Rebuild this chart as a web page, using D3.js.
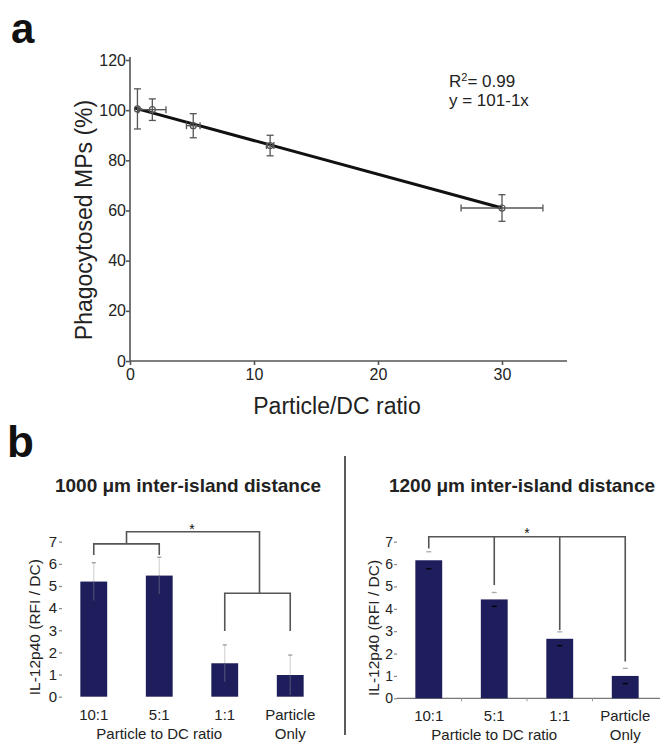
<!DOCTYPE html>
<html><head><meta charset="utf-8">
<script src="https://cdn.jsdelivr.net/npm/d3@7"></script>
<style>
body{margin:0;background:#fff;}
svg{display:block;font-family:"Liberation Sans",Arial,sans-serif;}
</style></head>
<body><svg id="c" width="669" height="750"></svg>
<script>
// ---- Panel a data ----
const aX = [0.6, 1.8, 5.1, 11.3, 30.0];
const aY = [100.5, 100.2, 93.8, 85.9, 61.0];
const aXerr = [0, 1.1, 0.55, 0.3, 3.3];
const aYerr = [8.0, 4.3, 4.8, 4.1, 5.3];
const fitX = [0.4, 30];
const fitY = [100.8, 61.0];
const aXTicks = [0, 10, 20, 30];
const aYTicks = [0, 20, 40, 60, 80, 100, 120];
// ---- Panel b data ----
const categories = ["10:1", "5:1", "1:1", "Particle Only"];
const leftVals = [5.2, 5.47, 1.51, 0.98];
const leftErr = [0.85, 0.83, 0.83, 0.9];
const rightVals = [6.17, 4.42, 2.66, 1.0];
const rightErr = [0.38, 0.31, 0.31, 0.34];
const bYTicks = [0, 1, 2, 3, 4, 5, 6, 7];

const svg = d3.select("#c");
const axisCol = "#555", textCol = "#222", barCol = "#1f1e5c";

// ===== Panel a =====
svg.append("text").attr("x", 11).attr("y", 43).attr("font-size", 42).attr("font-weight", "bold").attr("fill", "#111").text("a");
const ax = d3.scaleLinear().domain([0, 35]).range([130, 564]);
const ay = d3.scaleLinear().domain([0, 120]).range([361, 60]);
const gA = svg.append("g");
const xAx = gA.append("g").attr("transform", "translate(0,361)")
  .call(d3.axisBottom(ax).tickValues(aXTicks).tickSize(4).tickPadding(4).tickSizeOuter(0));
const yAx = gA.append("g").attr("transform", "translate(130,0)")
  .call(d3.axisLeft(ay).tickValues(aYTicks).tickSize(4).tickPadding(0).tickSizeOuter(0));
[xAx, yAx].forEach(g => {
  g.selectAll("path,line").attr("stroke", axisCol).attr("stroke-width", 1.6);
  g.selectAll("text").attr("font-size", 16).attr("fill", textCol).attr("font-family", "'Liberation Sans Narrow','Liberation Sans',Arial,sans-serif");
});
xAx.selectAll("path").attr("d", `M130,0H567`);
yAx.selectAll("path").attr("d", `M0,361V57`);
gA.append("text").attr("transform", "translate(92,220) rotate(-90)").attr("text-anchor", "middle")
  .attr("font-size", 23).attr("fill", textCol).text("Phagocytosed MPs (%)");
gA.append("text").attr("x", 337).attr("y", 414).attr("text-anchor", "middle")
  .attr("font-size", 23).attr("fill", textCol).text("Particle/DC ratio");
gA.append("path").attr("d", d3.line().x((d, i) => ax(fitX[i])).y(d => ay(d))(fitY))
  .attr("stroke", "#111").attr("stroke-width", 3).attr("fill", "none");
const pts = gA.selectAll("g.pt").data(aX.map((x, i) => ({x, y: aY[i], ex: aXerr[i], ey: aYerr[i]}))).enter().append("g");
pts.each(function(d) {
  const g = d3.select(this);
  const cx = ax(d.x), cy = ay(d.y);
  const cap = 3.5;
  const line = (x1, y1, x2, y2) => g.append("line").attr("x1", x1).attr("y1", y1).attr("x2", x2).attr("y2", y2).attr("stroke", "#555").attr("stroke-width", 1.3);
  line(cx, ay(d.y + d.ey), cx, ay(d.y - d.ey));
  line(cx - cap, ay(d.y + d.ey), cx + cap, ay(d.y + d.ey));
  line(cx - cap, ay(d.y - d.ey), cx + cap, ay(d.y - d.ey));
  if (d.ex > 0) {
    line(ax(d.x - d.ex), cy, ax(d.x + d.ex), cy);
    line(ax(d.x - d.ex), cy - cap, ax(d.x - d.ex), cy + cap);
    line(ax(d.x + d.ex), cy - cap, ax(d.x + d.ex), cy + cap);
  }
  g.append("circle").attr("cx", cx).attr("cy", cy).attr("r", 3).attr("fill", "none").attr("stroke", "#555").attr("stroke-width", 1.2);
});
const rt = gA.append("text").attr("x", 449).attr("y", 87).attr("font-size", 17).attr("fill", textCol);
rt.append("tspan").text("R");
rt.append("tspan").attr("font-size", 11).attr("dy", -6).text("2");
rt.append("tspan").attr("dy", 6).text("= 0.99");
gA.append("text").attr("x", 449).attr("y", 106).attr("font-size", 17).attr("fill", textCol).text("y = 101-1x");

// ===== Panel b =====
svg.append("text").attr("x", 7).attr("y", 457).attr("font-size", 44).attr("font-weight", "bold").attr("fill", "#111").text("b");
svg.append("line").attr("x1", 345).attr("x2", 345).attr("y1", 456).attr("y2", 735).attr("stroke", "#333").attr("stroke-width", 1.6);

function barPanel(cfg) {
  const g = svg.append("g");
  const x = d3.scaleBand().domain(categories).range([cfg.x0, cfg.x0 + 260]).paddingInner(0.59).paddingOuter(0.28);
  const y = d3.scaleLinear().domain([0, 7]).range([cfg.base, cfg.top]);
  g.append("text").attr("x", cfg.titleX).attr("y", 492).attr("text-anchor", "middle").attr("font-size", 19)
    .attr("font-weight", "bold").attr("fill", textCol).text(cfg.title);
  const yA = g.append("g").attr("transform", `translate(${cfg.x0},0)`)
    .call(d3.axisLeft(y).tickValues(bYTicks).tickFormat(d3.format("d")).tickSize(3).tickPadding(cfg.tickPad).tickSizeOuter(0));
  yA.select("path").attr("stroke", "none");
  yA.selectAll("line").attr("stroke", "#888").attr("stroke-width", 1.2);
  yA.selectAll("text").attr("font-size", cfg.tickFont).attr("fill", textCol);
  g.append("text").attr("transform", `translate(${cfg.x0 - cfg.labOff},${(cfg.base + cfg.top) / 2 + 8}) rotate(-90)`)
    .attr("text-anchor", "middle").attr("font-size", 15.5).attr("fill", textCol).text("IL-12p40 (RFI / DC)");
  if (cfg.xLine) {
    g.append("line").attr("x1", cfg.x0).attr("x2", cfg.x0 + 263).attr("y1", cfg.base).attr("y2", cfg.base).attr("stroke", "#777").attr("stroke-width", 1.2);
    categories.slice(1).forEach(c => {
      const xx = x(c) - x.step() * x.paddingInner() / 2;
      g.append("line").attr("x1", xx).attr("x2", xx).attr("y1", cfg.base).attr("y2", cfg.base + 3).attr("stroke", "#999");
    });
  }
  const data = categories.map((c, i) => ({c, v: cfg.vals[i], e: cfg.err[i]}));
  g.selectAll("rect").data(data).enter().append("rect")
    .attr("x", d => x(d.c)).attr("width", x.bandwidth())
    .attr("y", d => y(d.v)).attr("height", d => y(0) - y(d.v)).attr("fill", barCol);
  data.forEach(d => {
    const cx = x(d.c) + x.bandwidth() / 2;
    if (cfg.errStyle === "line") {
      g.append("line").attr("x1", cx).attr("x2", cx).attr("y1", y(d.v + d.e)).attr("y2", y(d.v)).attr("stroke", "#d8d8d8").attr("stroke-width", 1.3);
      g.append("line").attr("x1", cx).attr("x2", cx).attr("y1", y(d.v)).attr("y2", y(d.v - d.e)).attr("stroke", "#4a4a72").attr("stroke-width", 1.3);
      g.append("line").attr("x1", cx - 2).attr("x2", cx + 2).attr("y1", y(d.v + d.e)).attr("y2", y(d.v + d.e)).attr("stroke", "#999").attr("stroke-width", 1.3);
    } else {
      g.append("line").attr("x1", cx - 2.5).attr("x2", cx + 2.5).attr("y1", y(d.v + d.e)).attr("y2", y(d.v + d.e)).attr("stroke", "#aaa").attr("stroke-width", 1.3);
      g.append("line").attr("x1", cx - 2.5).attr("x2", cx + 2.5).attr("y1", y(d.v - d.e)).attr("y2", y(d.v - d.e)).attr("stroke", "#000").attr("stroke-width", 1.3);
    }
  });
  data.forEach(d => {
    const cx = x(d.c) + x.bandwidth() / 2;
    const words = d.c === "Particle Only" ? ["Particle", "Only"] : [d.c];
    words.forEach((w, k) => g.append("text").attr("x", cx).attr("y", cfg.base + 23 + k * 19).attr("text-anchor", "middle")
      .attr("font-size", 15).attr("fill", textCol).text(w));
  });
  g.append("text").attr("x", x(categories[1]) + x.bandwidth() / 2).attr("y", cfg.base + 42).attr("text-anchor", "middle")
    .attr("font-size", 15).attr("fill", textCol).text("Particle to DC ratio");
  return {g, x, y, cx: c => x(c) + x.bandwidth() / 2};
}

const L = barPanel({x0: 62, base: 696.7, top: 541.7, title: "1000 \u03bcm inter-island distance", titleX: 188,
  vals: leftVals, err: leftErr, errStyle: "line", xLine: false, labOff: 22, tickFont: 15, tickPad: 2});
const R = barPanel({x0: 397, base: 698.3, top: 541.7, title: "1200 \u03bcm inter-island distance", titleX: 522,
  vals: rightVals, err: rightErr, errStyle: "caps", xLine: true, labOff: 18, tickFont: 14, tickPad: 1});

function path(g, pts) {
  g.append("path").attr("d", d3.line()(pts)).attr("fill", "none").attr("stroke", "#555").attr("stroke-width", 1.6);
}
{
  const c = categories.map(L.cx), y = L.y;
  path(L.g, [[c[0], y(6.4)], [c[0], y(6.9)], [c[1], y(6.9)], [c[1], y(6.4)]]);
  const mid01 = (c[0] + c[1]) / 2;
  const mid23 = (c[2] + c[3]) / 2;
  path(L.g, [[mid01, y(6.9)], [mid01, y(7.45)], [mid23 + 2, y(7.45)], [mid23 + 2, y(4.67)]]);
  path(L.g, [[c[2], y(2.97)], [c[2], y(4.67)], [c[3], y(4.67)], [c[3], y(2.97)]]);
  L.g.append("text").attr("x", (mid01 + mid23) / 2).attr("y", y(7.45) + 2).attr("text-anchor", "middle").attr("font-size", 14).attr("fill", "#111").text("*");
}
{
  const c = categories.map(R.cx), y = R.y;
  const ends = [6.7, 5.06, 3.05, 1.64];
  path(R.g, [[c[0], y(ends[0])], [c[0], y(7.22)], [c[3], y(7.22)], [c[3], y(ends[3])]]);
  path(R.g, [[c[1], y(7.22)], [c[1], y(ends[1])]]);
  path(R.g, [[c[2], y(7.22)], [c[2], y(ends[2])]]);
  R.g.append("text").attr("x", (c[1] + c[2]) / 2).attr("y", y(7.22) + 1).attr("text-anchor", "middle").attr("font-size", 14).attr("fill", "#111").text("*");
}
</script></body></html>
